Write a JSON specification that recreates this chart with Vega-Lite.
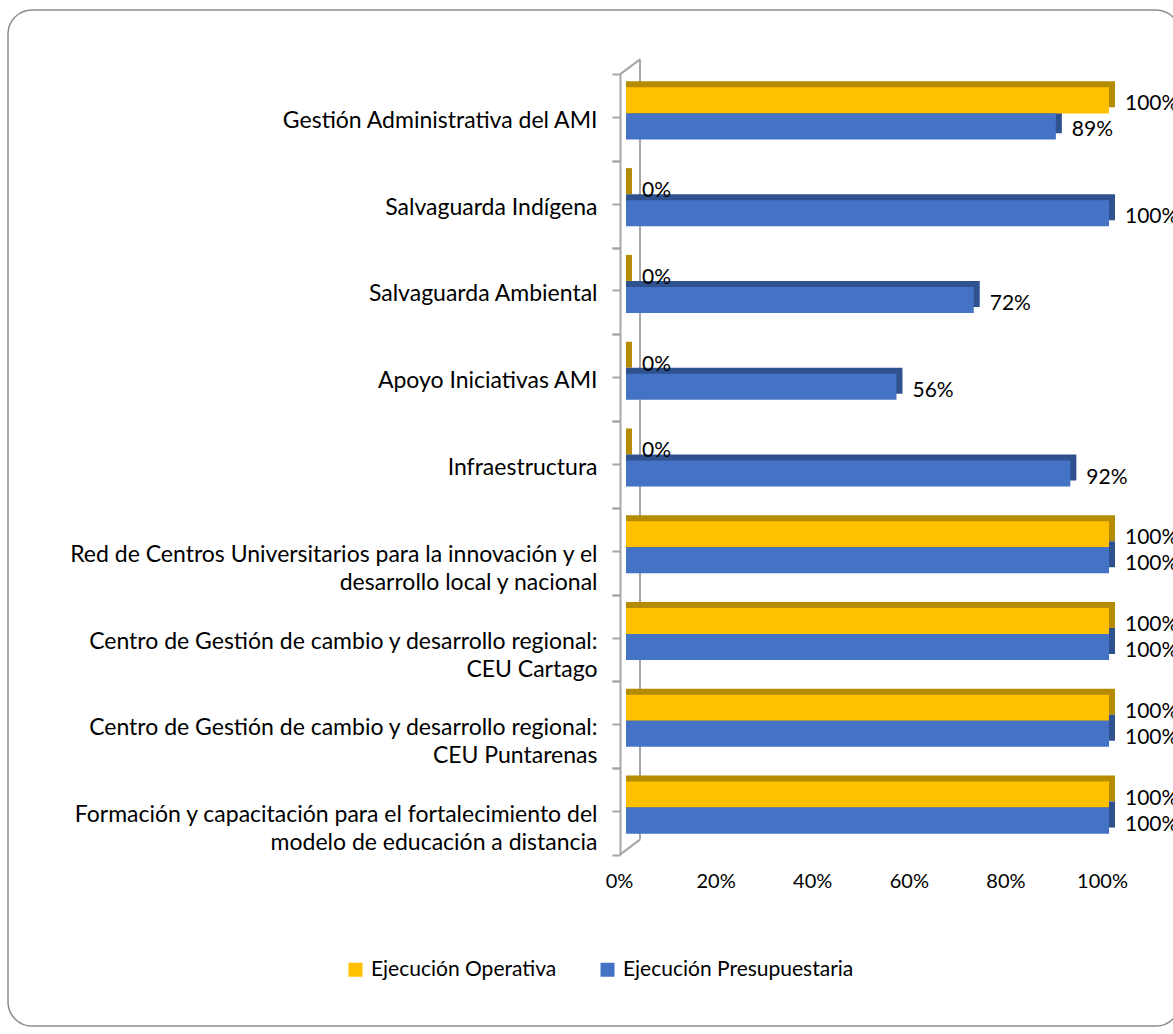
{
  "$schema": "https://vega.github.io/schema/vega-lite/v6.json",
  "width": 1172,
  "height": 1016,
  "padding": {"left": 8, "top": 10, "right": 0, "bottom": 8},
  "autosize": {"type": "none"},
  "background": "white",
  "config": {
    "font": "Lato",
    "view": {"stroke": "#8c8c8c", "strokeWidth": 1.5, "cornerRadius": 24},
    "axis": {"labelFont": "Lato", "labelColor": "#000000", "grid": false}
  },
  "data": {
    "values": [
      {"cat": "Gestión Administrativa del AMI", "series": "Ejecución Operativa", "value": 1.0},
      {"cat": "Gestión Administrativa del AMI", "series": "Ejecución Presupuestaria", "value": 0.89},
      {"cat": "Salvaguarda Indígena", "series": "Ejecución Operativa", "value": 0},
      {"cat": "Salvaguarda Indígena", "series": "Ejecución Presupuestaria", "value": 1.0},
      {"cat": "Salvaguarda Ambiental", "series": "Ejecución Operativa", "value": 0},
      {"cat": "Salvaguarda Ambiental", "series": "Ejecución Presupuestaria", "value": 0.72},
      {"cat": "Apoyo Iniciativas AMI", "series": "Ejecución Operativa", "value": 0},
      {"cat": "Apoyo Iniciativas AMI", "series": "Ejecución Presupuestaria", "value": 0.56},
      {"cat": "Infraestructura", "series": "Ejecución Operativa", "value": 0},
      {"cat": "Infraestructura", "series": "Ejecución Presupuestaria", "value": 0.92},
      {"cat": "Red de Centros Universitarios para la innovación y el\ndesarrollo local y nacional", "series": "Ejecución Operativa", "value": 1.0},
      {"cat": "Red de Centros Universitarios para la innovación y el\ndesarrollo local y nacional", "series": "Ejecución Presupuestaria", "value": 1.0},
      {"cat": "Centro de Gestión de cambio y desarrollo regional:\nCEU Cartago", "series": "Ejecución Operativa", "value": 1.0},
      {"cat": "Centro de Gestión de cambio y desarrollo regional:\nCEU Cartago", "series": "Ejecución Presupuestaria", "value": 1.0},
      {"cat": "Centro de Gestión de cambio y desarrollo regional:\nCEU Puntarenas", "series": "Ejecución Operativa", "value": 1.0},
      {"cat": "Centro de Gestión de cambio y desarrollo regional:\nCEU Puntarenas", "series": "Ejecución Presupuestaria", "value": 1.0},
      {"cat": "Formación y capacitación para el fortalecimiento del\nmodelo de educación a distancia", "series": "Ejecución Operativa", "value": 1.0},
      {"cat": "Formación y capacitación para el fortalecimiento del\nmodelo de educación a distancia", "series": "Ejecución Presupuestaria", "value": 1.0}
    ]
  },
  "encoding": {
    "y": {
      "field": "cat",
      "type": "nominal",
      "sort": null,
      "scale": {
        "domain": [
          "Gestión Administrativa del AMI",
          "Salvaguarda Indígena",
          "Salvaguarda Ambiental",
          "Apoyo Iniciativas AMI",
          "Infraestructura",
          "Red de Centros Universitarios para la innovación y el\ndesarrollo local y nacional",
          "Centro de Gestión de cambio y desarrollo regional:\nCEU Cartago",
          "Centro de Gestión de cambio y desarrollo regional:\nCEU Puntarenas",
          "Formación y capacitación para el fortalecimiento del\nmodelo de educación a distancia"
        ],
        "range": [60, 841], "paddingInner": 0.4, "paddingOuter": 0.2
      },
      "axis": null
    }
  },
  "layer": [
    {
      "data": {"values": [{"k": 1}]},
      "mark": {"type": "rule", "color": "#a6a6a6", "strokeWidth": 2, "xOffset": 14, "yOffset": -54, "y2Offset": 32},
      "encoding": {
        "x": {
          "datum": 0,
          "type": "quantitative",
          "scale": {"domain": [0, 1], "range": [618, 1101], "nice": false, "zero": true},
          "axis": {
            "title": null,
            "orient": "bottom",
            "offset": -175,
            "position": -7,
            "domain": false,
            "ticks": false,
            "labelFlush": false,
            "values": [0, 0.2, 0.4, 0.6, 0.8, 1],
            "format": ".0%",
            "labelFontSize": 20,
            "labelPadding": 20
          }
        },
        "y": {"datum": "Gestión Administrativa del AMI", "type": "nominal", "axis": null},
        "y2": {"datum": "Formación y capacitación para el fortalecimiento del\nmodelo de educación a distancia"}
      }
    },
    {
      "data": {"values": [{"k": 1}]},
      "mark": {"type": "rule", "color": "#a6a6a6", "strokeWidth": 2, "xOffset": -6, "x2Offset": 14, "yOffset": -39, "y2Offset": -54},
      "encoding": {
        "x": {"datum": 0, "type": "quantitative"},
        "x2": {"datum": 0},
        "y": {"datum": "Gestión Administrativa del AMI", "type": "nominal", "axis": null},
        "y2": {"datum": "Gestión Administrativa del AMI"}
      }
    },
    {
      "data": {"values": [{"k": 1}]},
      "mark": {"type": "rule", "color": "#a6a6a6", "strokeWidth": 2, "xOffset": -6, "x2Offset": 14, "yOffset": 47, "y2Offset": 32},
      "encoding": {
        "x": {"datum": 0, "type": "quantitative"},
        "x2": {"datum": 0},
        "y": {"datum": "Formación y capacitación para el fortalecimiento del\nmodelo de educación a distancia", "type": "nominal", "axis": null},
        "y2": {"datum": "Formación y capacitación para el fortalecimiento del\nmodelo de educación a distancia"}
      }
    },
    {
      "mark": {"type": "bar", "xOffset": 6},
      "encoding": {
        "x": {"field": "value", "type": "quantitative"},
        "x2": {"datum": 0},
        "y": {
          "field": "cat",
          "type": "nominal",
          "sort": null,
          "axis": {
            "title": null,
            "orient": "left",
            "offset": -612,
            "position": 4,
            "domain": false,
            "labels": false,
            "tickColor": "#a6a6a6",
            "tickWidth": 2,
            "tickSize": 8,
            "tickOffset": -43.4
          }
        },
        "yOffset": {
          "field": "series",
          "sort": ["Ejecución Operativa", "Ejecución Presupuestaria"],
          "scale": {"range": [-6, 46]}
        },
        "color": {
          "field": "series",
          "type": "nominal",
          "scale": {"domain": ["Ejecución Operativa", "Ejecución Presupuestaria"], "range": ["#B58C00", "#2F528F"]},
          "legend": null
        }
      }
    },
    {
      "mark": {"type": "bar"},
      "encoding": {
        "x": {"field": "value", "type": "quantitative"},
        "x2": {"datum": 0},
        "y": {
          "field": "cat",
          "type": "nominal",
          "sort": null,
          "axis": {
            "title": null,
            "orient": "left",
            "offset": -612,
            "position": 4,
            "domainColor": "#a6a6a6",
            "domainWidth": 2,
            "tickColor": "#a6a6a6",
            "tickWidth": 2,
            "tickSize": 8,
            "tickOffset": 43.4,
            "labelPadding": 15,
            "labelOffset": -40.4,
            "labelFontSize": 23,
            "labelLimit": 0,
            "labelLineHeight": 28,
            "labelExpr": "datum.label ? split(datum.label, '\\n') : ''"
          }
        },
        "yOffset": {"field": "series", "sort": ["Ejecución Operativa", "Ejecución Presupuestaria"]},
        "color": {
          "field": "series",
          "type": "nominal",
          "scale": {"domain": ["Ejecución Operativa", "Ejecución Presupuestaria"], "range": ["#FFC000", "#4472C4"]},
          "legend": {
            "title": null,
            "orient": "none",
            "direction": "horizontal",
            "legendX": 337,
            "legendY": 949,
            "symbolType": "square",
            "symbolSize": 196,
            "symbolStrokeWidth": 0,
            "labelFont": "Lato",
            "labelFontSize": 21,
            "labelLimit": 400,
            "labelColor": "#000000",
            "columnPadding": 40,
            "labelOffset": 5,
            "padding": 0
          }
        }
      }
    },
    {
      "mark": {"type": "text", "align": "left", "baseline": "middle", "dx": 16, "dy": 4, "fontSize": 21, "color": "#000000"},
      "encoding": {
        "x": {"field": "value", "type": "quantitative"},
        "y": {
          "field": "cat",
          "type": "nominal",
          "sort": null,
          "axis": {
            "title": null,
            "orient": "left",
            "offset": -612,
            "position": 4,
            "domain": false,
            "labels": false,
            "tickColor": "#a6a6a6",
            "tickWidth": 2,
            "tickSize": 8
          }
        },
        "yOffset": {"field": "series", "sort": ["Ejecución Operativa", "Ejecución Presupuestaria"]},
        "text": {"field": "value", "type": "quantitative", "format": ".0%"}
      }
    }
  ],
  "resolve": {"scale": {"color": "independent", "yOffset": "independent"}, "axis": {"y": "independent"}}
}
